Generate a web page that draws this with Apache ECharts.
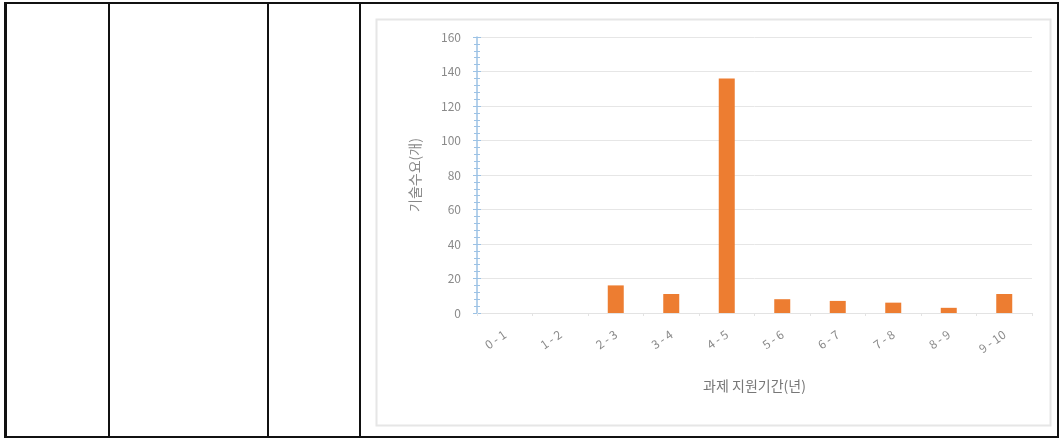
<!DOCTYPE html>
<html>
<head>
<meta charset="utf-8">
<script src="https://cdn.jsdelivr.net/npm/echarts@6/dist/echarts.min.js"></script>
<style>
  html, body { margin: 0; padding: 0; background: #fff; }
  #wrap { position: relative; width: 1062px; height: 438px; overflow: hidden; }
  #chart { position: absolute; left: 0; top: 0; width: 1062px; height: 438px; }
  .ln { position: absolute; background: #111; }
</style>
</head>
<body>
<div id="wrap">
  <div id="chart"></div>
  <!-- table cell borders -->
  <div class="ln" style="left:4px;top:2px;width:3px;height:435px;"></div>
  <div class="ln" style="left:4px;top:2px;width:1055px;height:2px;"></div>
  <div class="ln" style="left:4px;top:436px;width:1055px;height:2px;"></div>
  <div class="ln" style="left:108px;top:2px;width:2px;height:435px;"></div>
  <div class="ln" style="left:267px;top:2px;width:2px;height:435px;"></div>
  <div class="ln" style="left:359px;top:2px;width:2px;height:435px;"></div>
  <div class="ln" style="left:1057px;top:2px;width:2px;height:435px;"></div>
</div>
<script>
// 과제 지원기간별 기술수요 건수
const categories = ['0-1', '1-2', '2-3', '3-4', '4-5', '5-6', '6-7', '7-8', '8-9', '9-10'];
const demandCounts = [0, 0, 16, 11, 136, 8, 7, 6, 3, 11];
const xAxisTitle = '과제 지원기간(년)';
const yAxisTitle = '기술수요(개)';

const font = "'Noto Sans CJK KR', 'Noto Sans', sans-serif";
const textGray = '#8a8a8a';
const axisBlue = '#9cc2e5';

const chart = echarts.init(document.getElementById('chart'), null, { renderer: 'canvas' });

const yBase = {
  type: 'value',
  min: 0,
  max: 160,
  interval: 20,
  position: 'left'
};

chart.setOption({
  animation: false,
  backgroundColor: 'transparent',
  graphic: [{
    type: 'rect',
    left: 374,
    top: 17,
    shape: { width: 674, height: 406 },
    style: { fill: 'none', stroke: '#e6e6e6', lineWidth: 2 },
    z: -1
  }],
  grid: { left: 477, right: 30, top: 37, bottom: 125 },
  xAxis: {
    type: 'category',
    data: categories,
    axisLine: { show: true, lineStyle: { color: '#e3e3e3', width: 1 } },
    axisTick: { show: true, alignWithLabel: false, length: 3, lineStyle: { color: '#e3e3e3' } },
    axisLabel: {
      rotate: 35,
      margin: 20,
      color: textGray,
      fontFamily: font,
      fontSize: 12,
      formatter: v => v.replace('-', ' - ')
    },
    name: xAxisTitle,
    nameLocation: 'middle',
    nameGap: 66,
    nameTextStyle: { color: '#777', fontFamily: font, fontSize: 14 }
  },
  yAxis: [
    Object.assign({}, yBase, {
      axisLine: { show: true, lineStyle: { color: axisBlue, width: 1.5 } },
      axisTick: { show: true, length: 4, lineStyle: { color: axisBlue } },
      minorTick: { show: true, splitNumber: 5, length: 3, lineStyle: { color: axisBlue } },
      splitLine: { show: true, lineStyle: { color: '#e6e6e6', width: 1 } },
      axisLabel: { color: textGray, fontFamily: font, fontSize: 12, margin: 16 },
      name: yAxisTitle,
      nameLocation: 'middle',
      nameGap: 55,
      nameTextStyle: { color: '#888', fontFamily: font, fontSize: 14 }
    }),
    Object.assign({}, yBase, {
      axisLine: { show: false },
      axisTick: { show: true, inside: true, length: 4, lineStyle: { color: axisBlue } },
      minorTick: { show: true, splitNumber: 5, length: 3, lineStyle: { color: axisBlue } },
      splitLine: { show: false },
      axisLabel: { show: false }
    })
  ],
  series: [{
    type: 'bar',
    data: demandCounts,
    yAxisIndex: 0,
    barWidth: 16,
    itemStyle: { color: '#ed7d31' }
  }]
});
</script>
</body>
</html>
